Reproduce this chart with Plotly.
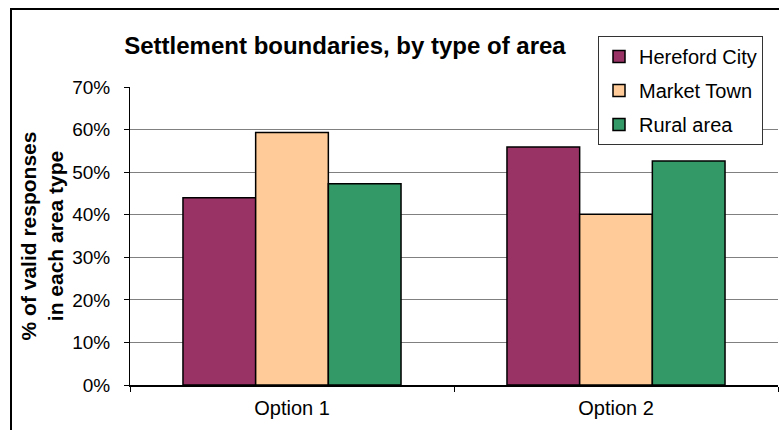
import plotly.graph_objects as go

categories = ['Option 1', 'Option 2']
hereford_city = [0.44, 0.559]
market_town = [0.593, 0.401]
rural_area = [0.473, 0.526]
y_ticks = [0, 0.1, 0.2, 0.3, 0.4, 0.5, 0.6, 0.7]

series = [
    ('Hereford City', hereford_city, '#993366'),
    ('Market Town', market_town, '#FFCC99'),
    ('Rural area', rural_area, '#339966'),
]

fig = go.Figure()
for name, vals, color in series:
    fig.add_trace(go.Bar(
        x=categories,
        y=vals,
        name=name,
        legendgroup=name,
        marker=dict(color=color, line=dict(color='black', width=1.5)),
    ))

fig.update_layout(
    width=779,
    height=430,
    margin=dict(l=130, r=1, t=87, b=45, autoexpand=False),
    barmode='group',
    bargap=0.327,
    bargroupgap=0,
    paper_bgcolor='white',
    plot_bgcolor='white',
    font=dict(family='Liberation Sans, Arial', size=19, color='black'),
    title=dict(
        text='<b>Settlement boundaries, by type of area</b>',
        x=345 / 779,
        xanchor='center',
        y=1 - 46 / 430,
        yanchor='middle',
        font=dict(size=24),
    ),
    legend=dict(
        xref='container',
        yref='container',
        x=598 / 779,
        y=1 - 36 / 430,
        xanchor='left',
        yanchor='top',
        bordercolor='#333333',
        borderwidth=1,
        bgcolor='white',
        font=dict(size=20),
        tracegroupgap=5,
        traceorder='grouped',
        itemwidth=30,
    ),
    shapes=[dict(
        type='rect', xref='paper', yref='paper',
        x0=(11 - 130) / 648, x1=(795 - 130) / 648,
        y0=(385 - 445) / 298, y1=(385 - 9) / 298,
        line=dict(color='black', width=2),
        layer='below',
    )],
)
fig.update_yaxes(
    range=[0, 0.7],
    tickvals=y_ticks,
    tickformat='.0%',
    gridcolor='#808080',
    gridwidth=1,
    showline=True,
    linecolor='black',
    linewidth=1,
    ticks='outside',
    ticklen=5,
    tickcolor='black',
    ticklabelstandoff=10,
    zeroline=False,
    automargin=False,
    title=dict(text='<b>% of valid responses<br>in each area type</b>', font=dict(size=21), standoff=2),
)
fig.update_xaxes(
    showline=True,
    linecolor='black',
    linewidth=1.5,
    ticks='outside',
    ticklen=5,
    tickcolor='black',
    tickson='boundaries',
    ticklabelstandoff=4,
    showgrid=False,
    automargin=False,
    tickfont=dict(size=20),
)

fig.write_html('out.html', config={'displayModeBar': False},
               post_script="document.body.style.margin='0';")
